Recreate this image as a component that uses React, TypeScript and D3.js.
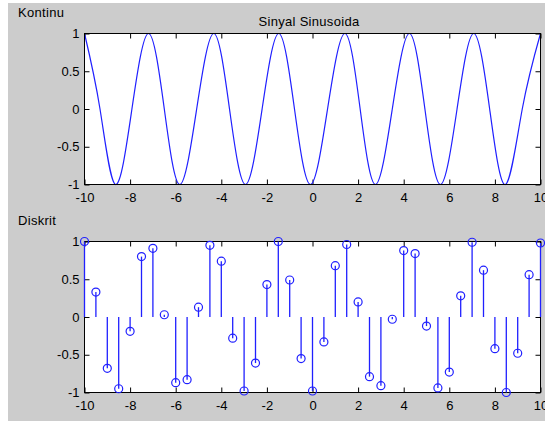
import React, { useRef, useEffect } from 'react';
import * as d3 from 'd3';

// continuous signal: extrema and zero crossings
const contT = [
  -10, -9.32, -8.64, -7.92, -7.19, -6.5, -5.82, -5.08, -4.33, -3.64, -2.94, -2.21,
  -1.48, -0.79, -0.09, 0.66, 1.42, 2.09, 2.76, 3.5, 4.25, 4.93, 5.61, 6.34, 7.07,
  7.77, 8.46, 9.2, 10,
];
const contY = [
  1, 0, -1, 0, 1, 0, -1, 0, 1, 0, -1, 0,
  1, 0, -1, 0, 1, 0, -1, 0, 1, 0, -1, 0, 1,
  0, -1, 0, 1,
];

// discrete samples, step 0.5 from -10 to 10
const discT = [
  -10, -9.5, -9, -8.5, -8, -7.5, -7, -6.5, -6, -5.5, -5, -4.5, -4, -3.5, -3, -2.5,
  -2, -1.5, -1, -0.5, 0, 0.5, 1, 1.5, 2, 2.5, 3, 3.5, 4, 4.5, 5, 5.5, 6, 6.5, 7,
  7.5, 8, 8.5, 9, 9.5, 10,
];
const discY = [
  1, 0.33, -0.68, -0.95, -0.19, 0.8, 0.91, 0.03, -0.87, -0.83, 0.13, 0.95, 0.74,
  -0.28, -0.98, -0.61, 0.43, 1.0, 0.49, -0.55, -0.98, -0.33, 0.68, 0.96, 0.2,
  -0.79, -0.91, -0.03, 0.88, 0.84, -0.12, -0.94, -0.73, 0.28, 0.99, 0.62, -0.42,
  -1.0, -0.48, 0.56, 0.98,
];

const xTicks = [-10, -8, -6, -4, -2, 0, 2, 4, 6, 8, 10];
const yTicks = [-1, -0.5, 0, 0.5, 1];

const FONT = '"Liberation Sans", Arial, sans-serif';
const BLUE = '#2020ff';

function drawAxes(g, x, y) {
  const fmt = (d) => String(d);
  const [x0, x1] = x.range();
  const [y0, y1] = y.range(); // y0 bottom, y1 top

  g.append('rect')
    .attr('x', x0)
    .attr('y', y1)
    .attr('width', x1 - x0)
    .attr('height', y0 - y1)
    .attr('fill', '#ffffff');

  const styleAxis = (sel) => {
    sel.select('.domain').remove();
    sel.selectAll('line').attr('stroke', '#000');
    sel.selectAll('text')
      .style('font-family', FONT)
      .style('font-size', '13px')
      .attr('fill', '#000');
  };

  g.append('g')
    .attr('transform', `translate(0,${y0})`)
    .call(d3.axisBottom(x).tickValues(xTicks).tickFormat(fmt).tickSizeInner(-5).tickSizeOuter(0).tickPadding(8))
    .call(styleAxis);
  g.append('g')
    .attr('transform', `translate(0,${y1})`)
    .call(d3.axisTop(x).tickValues(xTicks).tickFormat(() => '').tickSizeInner(-5).tickSizeOuter(0))
    .call(styleAxis);
  g.append('g')
    .attr('transform', `translate(${x0},0)`)
    .call(d3.axisLeft(y).tickValues(yTicks).tickFormat(fmt).tickSizeInner(-5).tickSizeOuter(0).tickPadding(5))
    .call(styleAxis);
  g.append('g')
    .attr('transform', `translate(${x1},0)`)
    .call(d3.axisRight(y).tickValues(yTicks).tickFormat(() => '').tickSizeInner(-5).tickSizeOuter(0))
    .call(styleAxis);
}

function frame(g, x, y) {
  const [x0, x1] = x.range();
  const [y0, y1] = y.range();
  g.append('rect')
    .attr('x', x0)
    .attr('y', y1)
    .attr('width', x1 - x0)
    .attr('height', y0 - y1)
    .attr('fill', 'none')
    .attr('stroke', '#000')
    .attr('shape-rendering', 'crispEdges');
}

export default function App() {
  const svgRef = useRef(null);

  useEffect(() => {
    const svg = d3.select(svgRef.current);
    svg.selectAll('*').remove();

    svg.append('rect').attr('width', 545).attr('height', 421).attr('fill', '#ffffff');
    svg.append('rect').attr('x', 8).attr('y', 3).attr('width', 537).attr('height', 418).attr('fill', '#cccccc');

    const x = d3.scaleLinear().domain([-10, 10]).range([84.5, 540.5]);

    // top panel: continuous
    const yTop = d3.scaleLinear().domain([-1, 1]).range([184.5, 33.5]);
    const top = svg.append('g');
    drawAxes(top, x, yTop);
    const pts = contT.map((t, i) => [t, contY[i]]);
    top.append('path')
      .datum(pts)
      .attr('fill', 'none')
      .attr('stroke', BLUE)
      .attr('stroke-width', 1.2)
      .attr('d', d3.line().x((d) => x(d[0])).y((d) => yTop(d[1])).curve(d3.curveNatural));
    frame(top, x, yTop);

    // bottom panel: discrete stems
    const yBot = d3.scaleLinear().domain([-1, 1]).range([392.5, 241.5]);
    const bot = svg.append('g');
    drawAxes(bot, x, yBot);
    frame(bot, x, yBot);
    const samples = discT.map((t, i) => ({ t, v: discY[i] }));
    bot.selectAll('.stem')
      .data(samples)
      .join('line')
      .attr('class', 'stem')
      .attr('x1', (d) => x(d.t))
      .attr('x2', (d) => x(d.t))
      .attr('y1', yBot(0))
      .attr('y2', (d) => yBot(d.v))
      .attr('stroke', BLUE)
      .attr('stroke-width', 1.3);
    bot.selectAll('.mark')
      .data(samples)
      .join('circle')
      .attr('class', 'mark')
      .attr('cx', (d) => x(d.t))
      .attr('cy', (d) => yBot(d.v))
      .attr('r', 4)
      .attr('fill', 'none')
      .attr('stroke', BLUE)
      .attr('stroke-width', 1.2);

    // labels
    const label = (txt, lx, ly, anchor = 'start') =>
      svg.append('text')
        .attr('x', lx)
        .attr('y', ly)
        .attr('text-anchor', anchor)
        .style('font-family', FONT)
        .style('font-size', '13px')
        .style('letter-spacing', '0.3px')
        .attr('fill', '#000')
        .text(txt);

    label('Kontinu', 18, 17);
    label('Sinyal Sinusoida', 309, 26, 'middle');
    label('Diskrit', 18, 225);
  }, []);

  return (
    <svg
      ref={svgRef}
      width={545}
      height={421}
      style={{ position: 'fixed', left: 0, top: 0, display: 'block' }}
    />
  );
}
